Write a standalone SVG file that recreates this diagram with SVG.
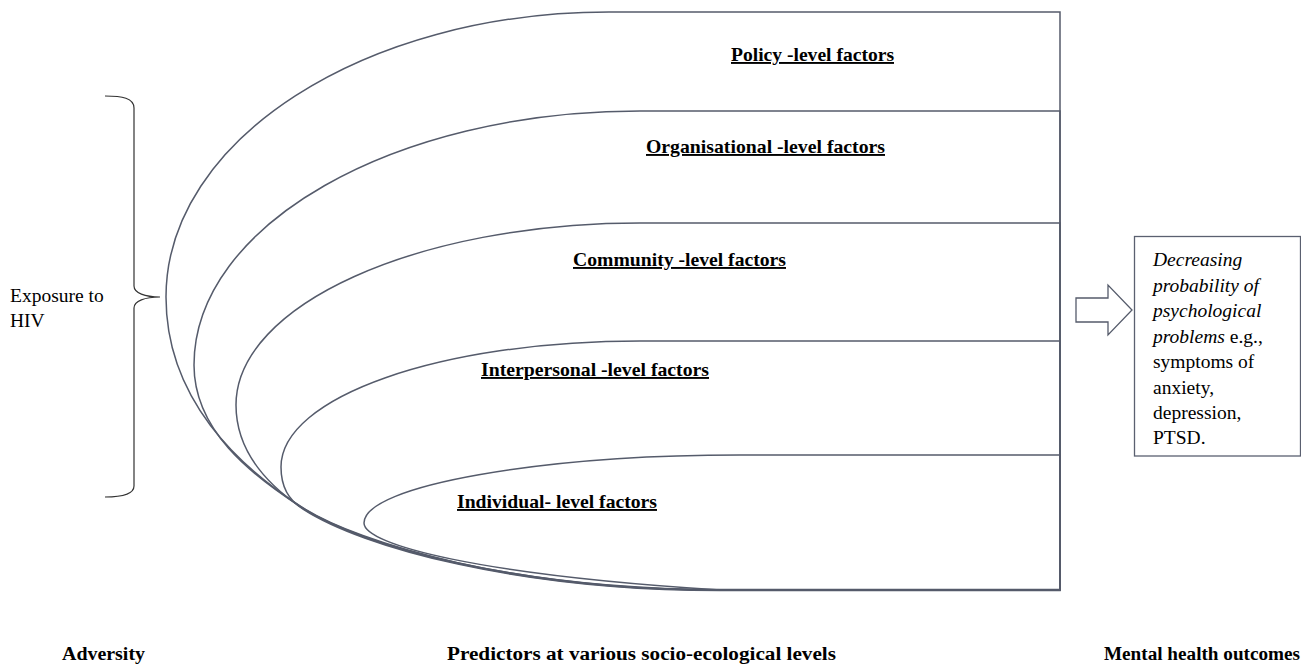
<svg xmlns="http://www.w3.org/2000/svg" width="1301" height="664" viewBox="0 0 1301 664">
<style>
.lvl{fill:none;stroke:#555b6b;stroke-width:1.5}
.lab{font-family:"Liberation Serif","Times New Roman",serif;font-weight:bold;font-size:19px;fill:#000;text-decoration:underline}
.bot{font-family:"Liberation Serif","Times New Roman",serif;font-weight:bold;font-size:18px;fill:#000}
.txt{font-family:"Liberation Serif","Times New Roman",serif;font-size:19.5px;fill:#000}
.it{font-style:italic}
</style>
<rect width="1301" height="664" fill="#fff"/>
<g id="policy">
<path class="lvl" d="M1060,12 L609,12 C364,12 166,140 166,297 C166,400 240,467 300,506 C360,545 520,590 720,590 L1060,590 Z"/>
<text class="lab" x="731" y="61" textLength="163" lengthAdjust="spacingAndGlyphs">Policy -level factors</text>
</g>
<g id="organisational">
<path class="lvl" d="M1060,111 L640,111 C394,111 194,225 194,365 C194,430 250,474 301,507 C361,546 520,589.5 720,589.5 L1060,589.5 Z"/>
<text class="lab" x="646" y="153" textLength="239" lengthAdjust="spacingAndGlyphs">Organisational -level factors</text>
</g>
<g id="community">
<path class="lvl" d="M1060,223 L640,223 C417,223 236,305 236,405 C236,450 265,483 302,508 C362,547 520,590 720,590 L1060,590 Z"/>
<text class="lab" x="573" y="266" textLength="213" lengthAdjust="spacingAndGlyphs">Community -level factors</text>
</g>
<g id="interpersonal">
<path class="lvl" d="M1060,341 L640,341 C440,341 281,397 281,467 C281,485 288,500 303,509 C363,548 520,590.5 720,590.5 L1060,590.5 Z"/>
<text class="lab" x="481" y="376" textLength="228" lengthAdjust="spacingAndGlyphs">Interpersonal -level factors</text>
</g>
<g id="individual">
<path class="lvl" d="M1060,455 L740,455 C545,455 364,485 364,523 C364,545 480,575 720,590 L1060,590 Z"/>
<text class="lab" x="457" y="508" textLength="200" lengthAdjust="spacingAndGlyphs">Individual- level factors</text>
</g>
<g id="exposure">
<path d="M105,96 C122,96 134,98 134,108 L134,286 C134,293 145,297 160,297 C145,297 134,301 134,308 L134,486 C134,494 122,497 105,497" fill="none" stroke="#333" stroke-width="1.2"/>
<text class="txt" x="10" y="302" font-size="19">Exposure to</text>
<text class="txt" x="10" y="327" font-size="19">HIV</text>
</g>
<g id="connectors">
<polygon points="1076,298 1108,298 1108,285 1132,310 1108,335 1108,322 1076,322" fill="#fff" stroke="#555b6b" stroke-width="1.3"/>
</g>
<g id="outcome">
<rect x="1134.5" y="236.5" width="166" height="219.5" fill="#fff" stroke="#5a6070" stroke-width="1.3"/>
<text class="txt" x="1153" y="266"><tspan class="it">Decreasing</tspan></text>
<text class="txt" x="1153" y="291.5"><tspan class="it">probability of</tspan></text>
<text class="txt" x="1153" y="317"><tspan class="it">psychological</tspan></text>
<text class="txt" x="1153" y="342.5"><tspan class="it">problems</tspan> e.g.,</text>
<text class="txt" x="1153" y="368">symptoms of</text>
<text class="txt" x="1153" y="393.5">anxiety,</text>
<text class="txt" x="1153" y="419">depression,</text>
<text class="txt" x="1153" y="444">PTSD.</text>
</g>
<g id="footer">
<text class="bot" x="62" y="660" textLength="83" lengthAdjust="spacingAndGlyphs">Adversity</text>
<text class="bot" x="447" y="660" textLength="389" lengthAdjust="spacingAndGlyphs">Predictors at various socio-ecological levels</text>
<text class="bot" x="1104" y="660" textLength="196" lengthAdjust="spacingAndGlyphs">Mental health outcomes</text>
</g>
</svg>
